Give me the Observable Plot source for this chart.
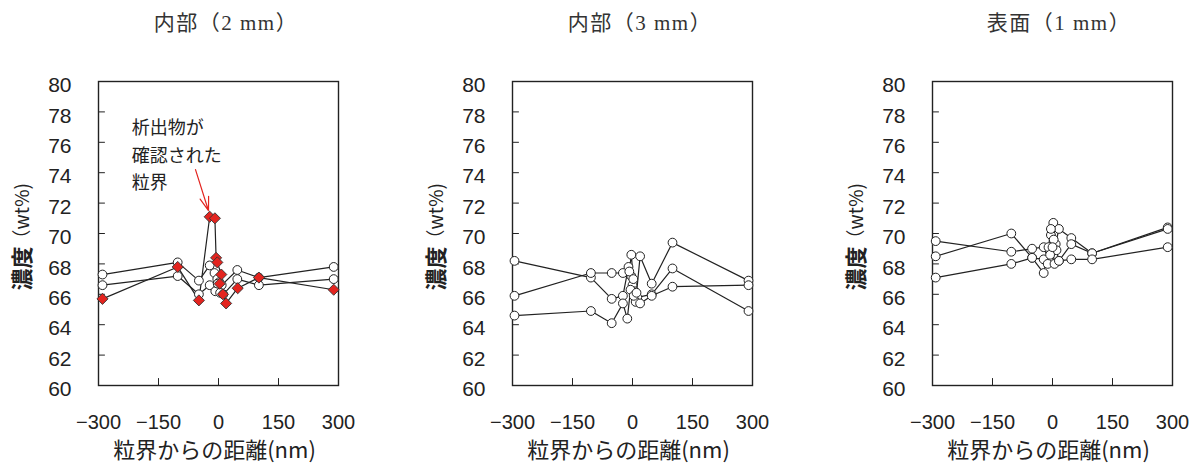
<!DOCTYPE html>
<html>
<head>
<meta charset="utf-8">
<script src="https://cdn.jsdelivr.net/npm/d3@7"></script>
<script src="https://cdn.jsdelivr.net/npm/@observablehq/plot@0.6"></script>
<style>
  html, body { margin: 0; padding: 0; background: #fff; }
  #root { position: relative; width: 1199px; height: 473px; overflow: hidden; background: #fff; }
  .ptitle { position: absolute; top: 6px; transform: translateX(-50%); white-space: nowrap;
    font-family: "Liberation Serif", "DejaVu Serif", "Noto Sans CJK JP", serif; font-size: 21px; letter-spacing: 1.5px; color: #333; }
  .panel { position: absolute; top: 0; }
</style>
</head>
<body>
<div id="root"></div>
<script>
// ---- data ----
const panelTitles = ["内部（2 mm）", "内部（3 mm）", "表面（1 mm）"];
const xTicks = [-300, -150, 0, 150, 300];
const xInnerTicks = [-150, 0, 150];
const yTicks = [60, 62, 64, 66, 68, 70, 72, 74, 76, 78, 80];
const xTitle = "粒界からの距離(nm)";
const yTitleMain = "濃度";
const yTitleUnit = "（wt%)";
const noteLines = ["析出物が", "確認された", "粒界"];
const noteY = [76.9, 75.1, 73.3];

// Panel 1: 内部（2 mm）
const p1aX = [-290, -102, -49, -22, -10, -3, 2, 8, 47, 101, 288];
const p1aY = [67.3, 68.1, 66.9, 67.9, 67.4, 67.0, 66.8, 66.6, 67.6, 67.1, 67.8];
const p1bX = [-290, -102, -49, -22, -8, -2, 4, 12, 47, 101, 288];
const p1bY = [66.6, 67.2, 66.0, 66.6, 66.2, 66.7, 66.1, 66.0, 67.0, 66.6, 67.0];
const p1cX = [-290, -102, -49, -22, -9, -6, -3, 7, 3, 11, 19, 48, 101, 288];
const p1cY = [65.7, 67.8, 65.6, 71.1, 71.0, 68.4, 68.1, 67.3, 66.7, 66.0, 65.4, 66.4, 67.1, 66.3];

// Panel 2: 内部（3 mm）
const p2aX = [-295, -104, -52, -24, -10, -3, 0, 5, 12, 48, 100, 290];
const p2aY = [68.2, 67.1, 65.7, 65.9, 67.8, 67.2, 66.6, 66.2, 65.8, 66.0, 67.7, 64.9];
const p2bX = [-295, -104, -52, -24, -8, -3, 2, 8, 19, 48, 100, 290];
const p2bY = [65.9, 67.4, 67.4, 67.4, 67.5, 68.6, 67.0, 65.5, 68.5, 66.7, 69.4, 66.9];
const p2cX = [-295, -104, -52, -24, -13, -5, 3, 10, 19, 48, 100, 290];
const p2cY = [64.6, 64.9, 64.1, 65.4, 64.4, 66.3, 65.9, 66.1, 65.4, 65.9, 66.5, 66.6];

// Panel 3: 表面（1 mm）
const p3aX = [-292, -103, -51, -22, -10, -4, 2, 8, 16, 47, 99, 288];
const p3aY = [69.5, 68.8, 69.0, 69.1, 68.3, 69.9, 70.7, 69.3, 70.3, 69.7, 68.7, 70.4];
const p3bX = [-292, -103, -51, -22, -10, -4, 3, 10, 16, 47, 99, 288];
const p3bY = [68.5, 70.0, 68.4, 67.4, 69.1, 70.3, 69.6, 68.9, 68.2, 69.3, 68.7, 70.3];
const p3cX = [-292, -103, -51, -22, -12, -6, 0, 5, 16, 47, 99, 288];
const p3cY = [67.1, 68.0, 68.4, 68.3, 68.0, 68.6, 69.1, 68.0, 68.2, 68.3, 68.3, 69.1];

// annotation anchors (data units)
const noteX = -217;
const arrowFrom = {x: -57.5, y: 74.2};
const arrowTo = {x: -25, y: 71.5};

// ---- build ----
const series = (xs, ys) => xs.map((x, i) => ({x, y: ys[i]}));
const panels = [
  {left: 8, circles: [series(p1aX, p1aY), series(p1bX, p1bY)], diamonds: [series(p1cX, p1cY)], note: true, title: 226},
  {left: 422, circles: [series(p2aX, p2aY), series(p2bX, p2bY), series(p2cX, p2cY)], diamonds: [], note: false, title: 640},
  {left: 842, circles: [series(p3aX, p3aY), series(p3bX, p3bY), series(p3cX, p3cY)], diamonds: [], note: false, title: 1059}
];

const root = document.getElementById("root");
const sans = "'Liberation Sans', Arial, 'Noto Sans CJK JP', sans-serif";
const cjk = "'Noto Sans CJK JP', 'Liberation Sans', sans-serif";
const tickUp = {draw(ctx, l) { ctx.moveTo(0, 0); ctx.lineTo(0, -l); }};
const tickRight = {draw(ctx, l) { ctx.moveTo(0, 0); ctx.lineTo(l, 0); }};

panels.forEach((p, k) => {
  const lineMarks = [];
  const dotMarks = [];
  for (const s of p.circles) {
    lineMarks.push(Plot.line(s, {x: "x", y: "y", stroke: "#222", strokeWidth: 1.2}));
    dotMarks.push(Plot.dot(s, {x: "x", y: "y", r: 4.4, fill: "white", stroke: "#222", strokeWidth: 1}));
  }
  for (const s of p.diamonds) {
    lineMarks.push(Plot.line(s, {x: "x", y: "y", stroke: "#222", strokeWidth: 1.2}));
  }
  for (const s of p.diamonds) {
    dotMarks.push(Plot.dot(s, {x: "x", y: "y", r: 5, symbol: "diamond2", fill: "#e3241f", stroke: "#333", strokeWidth: 0.9}));
  }
  const noteMarks = p.note ? [
    ...noteLines.map((line, i) => Plot.text([line], {x: () => noteX, y: () => noteY[i],
      textAnchor: "start", fontSize: 18, fontFamily: cjk, fill: "#222", letterSpacing: 4})),
    Plot.arrow([0], {x1: () => arrowFrom.x, y1: () => arrowFrom.y, x2: () => arrowTo.x, y2: () => arrowTo.y,
      stroke: "#e3241f", strokeWidth: 1.2, headLength: 25, headAngle: 36})
  ] : [];

  const svg = Plot.plot({
    width: 350, height: 473,
    marginLeft: 90, marginRight: 20, marginTop: 81, marginBottom: 88,
    x: {domain: [-300, 300], label: null},
    y: {domain: [60, 80], label: null},
    style: {fontFamily: sans, fontSize: "20px", color: "#222", background: "transparent", overflow: "visible"},
    marks: [
      Plot.vector(xInnerTicks, {x: d => d, y: () => 60, length: 7, anchor: "start", shape: tickUp, stroke: "#222", strokeWidth: 1}),
      Plot.vector(yTicks, {x: () => -300, y: d => d, length: 6, anchor: "start", shape: tickRight, stroke: "#222", strokeWidth: 1}),
      Plot.axisX(xTicks, {tickSize: 0, tickPadding: 29, fontSize: 20, label: null}),
      Plot.axisY(yTicks, {tickSize: 0, tickPadding: 27, dy: 4, fontSize: 21, label: null}),
      Plot.frame({stroke: "#222", strokeWidth: 1.4}),
      Plot.text([xTitle], {frameAnchor: "bottom", dy: 65, lineAnchor: "middle", fontSize: 22, fontFamily: cjk, fill: "#222", dx: -4}),
      Plot.text([yTitleMain], {frameAnchor: "left", dx: -76, dy: 57, rotate: -90, textAnchor: "start", lineAnchor: "middle", fontSize: 22, fontWeight: "bold", fontFamily: cjk, fill: "#222"}),
      Plot.text([yTitleUnit], {frameAnchor: "left", dx: -76, dy: 15, rotate: -90, textAnchor: "start", lineAnchor: "middle", fontSize: 19, fontFamily: cjk, fill: "#222"}),
      ...lineMarks,
      ...dotMarks,
      ...noteMarks
    ]
  });
  svg.classList.add("panel");
  svg.style.left = p.left + "px";
  root.appendChild(svg);

  const t = document.createElement("div");
  t.className = "ptitle";
  t.style.left = p.title + "px";
  t.textContent = panelTitles[k];
  root.appendChild(t);
});
</script>
</body>
</html>
